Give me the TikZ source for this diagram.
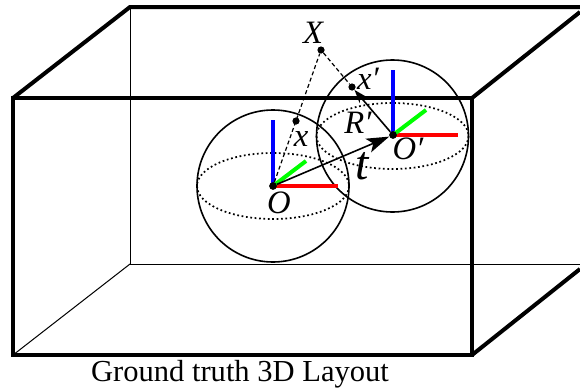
\documentclass[tikz,border=0pt]{standalone}
\usepackage{fontspec}
\setmainfont{Liberation Serif}
\usetikzlibrary{arrows.meta}
\tikzset{
  thick edge/.style={line width=3pt,line join=miter,line cap=butt},
  front edge/.style={line width=3.4pt,line join=miter},
  thin edge/.style={line width=0.75pt,black},
  sphere/.style={line width=1.2pt,black},
  equator/.style={line width=1.3pt,dotted,black},
  ray/.style={line width=0.9pt,dash pattern=on 3pt off 2pt,black},
  axisb/.style={line width=3pt,blue},
  axisr/.style={line width=3pt,red},
  axisg/.style={line width=3pt,green},
  pointdot/.style={circle,fill=black,inner sep=0pt,minimum size=5.4pt},
  centredot/.style={circle,fill=black,inner sep=0pt,minimum size=5.8pt},
  lab/.style={inner sep=0pt,font=\fontsize{24.5}{24.5}\selectfont\itshape}
}
\begin{document}
\begin{tikzpicture}[x=0.75pt,y=-0.75pt]
\useasboundingbox (0,0) rectangle (580,389);
% corners of the room
\coordinate (FTL) at (13,98);
\coordinate (FTR) at (472,98);
\coordinate (FBR) at (472,355);
\coordinate (FBL) at (13,355);
\coordinate (BTL) at (130,7);
\coordinate (BBL) at (130,264);
\coordinate (TRe) at (580,7);
\coordinate (BRe) at (580,264);
\coordinate (TDe) at (580,12);
\coordinate (BDe) at (580,269);
% back edges
\draw[thin edge] (BTL) -- (BBL) -- (BRe);
\draw[thin edge] (BBL) -- (FBL);
% room edges
\draw[thick edge] (FTR) -- (TDe);
\draw[thick edge] (FBR) -- (BDe);
\draw[thick edge] (FTL) -- (BTL) -- (TRe);
\draw[front edge] (FTL) -- (FTR) -- (FBR) -- (FBL) -- cycle;
% spheres
\coordinate (O) at (273,186);
\coordinate (Op) at (393,135);
\draw[sphere] (O) circle (76);
\draw[equator] (O) ellipse (76 and 33);
\draw[sphere] (392.5,136) circle (76);
\draw[equator] (392.5,136) ellipse (76 and 33);
% axes
\coordinate (Oz) at (273,120);
\coordinate (Ox) at (338,186);
\coordinate (Oy) at (306,161);
\coordinate (Opz) at (393,70);
\coordinate (Opx) at (458,135);
\coordinate (Opy) at (426,110);
\draw[axisb] (O) -- (Oz);
\draw[axisr] (O) -- (Ox);
\draw[axisg] (O) -- (Oy);
\draw[axisb] (Op) -- (Opz);
\draw[axisr] (Op) -- (Opx);
\draw[axisg] (Op) -- (Opy);
% points
\node[pointdot] (X) at (321,50) {};
\node[pointdot] (xa) at (296,121) {};
\node[pointdot] (xb) at (352,87) {};
\node[centredot] (Oc) at (O) {};
\node[centredot] (Opc) at (Op) {};
% rays
\draw[ray] (Oc) -- (X);
\draw[ray] (X) -- (xb);
\draw[line width=1.2pt,-{Stealth[length=10pt,width=7pt]}] (Opc) -- (xb);
\draw[line width=1.2pt,-{Stealth[length=17pt,width=11pt,inset=4pt]}] (Oc) -- (Opc);
% labels
\node[lab] (lX) at (313,33) {X};
\node[lab] (lx) at (301,139) {x};
\node[lab] (lxp) at (368,79) {x′};
\node[lab] (lR) at (358,123) {R′};
\node[lab] (lO) at (279,203) {O};
\node[lab] (lOp) at (408,149) {O′};
\node[lab,font=\fontsize{36}{36}\selectfont\itshape] (lt) at (362,166) {t};
\node[inner sep=0pt,font=\fontsize{22.9}{22.9}\selectfont] (caption) at (240,374) {Ground truth 3D Layout};
\end{tikzpicture}
\end{document}
